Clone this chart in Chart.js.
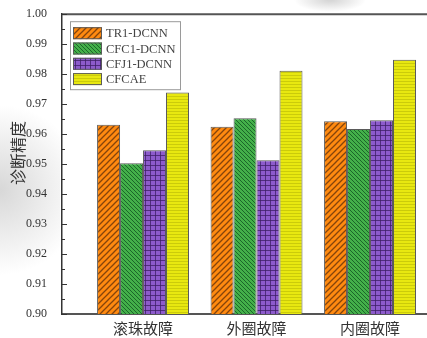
<!DOCTYPE html>
<html>
<head>
<meta charset="utf-8">
<script src="https://cdn.jsdelivr.net/npm/chart.js@4/dist/chart.umd.min.js"></script>
<style>
  html, body { margin: 0; padding: 0; background: #fff; overflow: hidden; }
  #wrap { width: 427px; height: 338px; position: relative; }
</style>
</head>
<body>
<div id="wrap"><canvas id="c" width="427" height="338"></canvas></div>
<script>
// Fault categories and diagnosis accuracy of each model
const categories = ['滚珠故障', '外圈故障', '内圈故障'];
const seriesNames = ['TR1-DCNN', 'CFC1-DCNN', 'CFJ1-DCNN', 'CFCAE'];
const tr1Dcnn  = [0.9631, 0.9625, 0.9643];
const cfc1Dcnn = [0.9503, 0.9653, 0.9617];
const cfj1Dcnn = [0.9546, 0.9513, 0.9646];
const cfcae    = [0.9739, 0.9811, 0.9848];
const yMin = 0.90, yMax = 1.00, yStep = 0.01, yMinorStep = 0.005;
const yTitle = '诊断精度';

// Fill patterns for the bars
function makePattern(kind) {
  const c = document.createElement('canvas');
  const g = c.getContext('2d');
  if (kind === 'orange') {
    const s = 6; c.width = s; c.height = s;
    g.fillStyle = '#ff8a10'; g.fillRect(0, 0, s, s);
    g.strokeStyle = 'rgba(110,55,10,0.85)'; g.lineWidth = 1.3;
    g.beginPath();
    g.moveTo(-1, s + 1); g.lineTo(s + 1, -1);
    g.moveTo(-1, 1); g.lineTo(1, -1);
    g.moveTo(s - 1, s + 1); g.lineTo(s + 1, s - 1);
    g.stroke();
  } else if (kind === 'green') {
    const s = 4; c.width = s; c.height = s;
    g.fillStyle = '#44b04a'; g.fillRect(0, 0, s, s);
    g.strokeStyle = 'rgba(20,90,35,0.85)'; g.lineWidth = 1;
    g.beginPath();
    g.moveTo(-1, -1); g.lineTo(s + 1, s + 1);
    g.moveTo(s - 1, -1); g.lineTo(s + 1, 1);
    g.moveTo(-1, s - 1); g.lineTo(1, s + 1);
    g.stroke();
  } else if (kind === 'purple') {
    const s = 5; c.width = s; c.height = s;
    g.fillStyle = '#8d5bcc'; g.fillRect(0, 0, s, s);
    g.fillStyle = 'rgba(60,30,100,0.75)';
    g.fillRect(0, 0, s, 1); g.fillRect(0, 0, 1, s);
  } else {
    const s = 3; c.width = s; c.height = s;
    g.fillStyle = '#e8e810'; g.fillRect(0, 0, s, s);
    g.fillStyle = 'rgba(150,150,0,0.35)';
    g.fillRect(0, 0, s, 1);
  }
  return g.createPattern(c, 'repeat');
}

const fills = [makePattern('orange'), makePattern('green'), makePattern('purple'), makePattern('yellow')];
const seriesValues = [tr1Dcnn, cfc1Dcnn, cfj1Dcnn, cfcae];

const datasets = seriesNames.map((name, k) => ({
  label: name,
  data: seriesValues[k].map((v, i) => ({ x: i, y: v })),
  backgroundColor: fills[k],
  borderColor: '#5a5a5a',
  borderWidth: 1,
  borderSkipped: 'bottom',
  barPercentage: 1.0,
  categoryPercentage: 0.81
}));

// Background haze, frame, inward ticks, category labels, title and legend
const decor = {
  id: 'decor',
  beforeDraw(chart) {
    const ctx = chart.ctx;
    ctx.save();
    ctx.fillStyle = '#fff';
    ctx.fillRect(0, 0, chart.width, chart.height);
    let gr = ctx.createRadialGradient(0, 190, 2, 0, 190, 85);
    gr.addColorStop(0, 'rgba(200,200,200,0.7)');
    gr.addColorStop(1, 'rgba(200,200,200,0)');
    ctx.fillStyle = gr;
    ctx.fillRect(0, 80, 60, 220);
    ctx.save();
    ctx.translate(330, 0);
    ctx.scale(3, 1);
    gr = ctx.createRadialGradient(0, 0, 1, 0, 0, 12);
    gr.addColorStop(0, 'rgba(205,205,205,0.8)');
    gr.addColorStop(1, 'rgba(205,205,205,0)');
    ctx.fillStyle = gr;
    ctx.fillRect(-40, 0, 80, 12);
    ctx.restore();
    ctx.restore();
  },
  afterDraw(chart) {
    const ctx = chart.ctx;
    const a = chart.chartArea;
    const ys = chart.scales.y;
    const xs = chart.scales.x;
    ctx.save();
    // top frame line
    ctx.strokeStyle = '#555';
    ctx.lineWidth = 2;
    ctx.beginPath();
    ctx.moveTo(a.left, a.top);
    ctx.lineTo(chart.width, a.top);
    ctx.stroke();
    // inward major / minor ticks on the y axis
    ctx.strokeStyle = '#333';
    ctx.lineWidth = 1;
    const n = Math.round((yMax - yMin) / yMinorStep);
    for (let i = 0; i <= n; i++) {
      const v = yMin + i * yMinorStep;
      const py = Math.round(ys.getPixelForValue(v)) + 0.5;
      const len = i % 2 === 0 ? 5 : 3;
      ctx.beginPath();
      ctx.moveTo(a.left, py);
      ctx.lineTo(a.left + len, py);
      ctx.stroke();
    }
    // category labels under the axis
    ctx.fillStyle = '#333';
    ctx.font = '15px "Noto Sans CJK SC"';
    ctx.textAlign = 'center';
    ctx.textBaseline = 'middle';
    categories.forEach((c, i) => {
      ctx.fillText(c, xs.getPixelForValue(i), a.bottom + 14);
    });
    // y axis title
    ctx.font = '16px "Noto Sans CJK SC"';
    ctx.translate(18, (a.top + a.bottom) / 2 - 11);
    ctx.rotate(-Math.PI / 2);
    ctx.fillText(yTitle, 0, 0);
    ctx.restore();

    // legend
    ctx.save();
    const lx = a.left + 8, ly = a.top + 7, lw = 110, lh = 68;
    ctx.fillStyle = '#fff';
    ctx.fillRect(lx, ly, lw, lh);
    ctx.strokeStyle = '#9a9a9a';
    ctx.lineWidth = 1;
    ctx.strokeRect(lx + 0.5, ly + 0.5, lw, lh);
    ctx.font = '12.5px "Liberation Serif"';
    ctx.textAlign = 'left';
    ctx.textBaseline = 'middle';
    chart.data.datasets.forEach((ds, k) => {
      const cy = ly + 12 + k * 15.3;
      ctx.fillStyle = ds.backgroundColor;
      ctx.fillRect(lx + 3, cy - 6, 29, 12);
      ctx.strokeStyle = '#5a5a5a';
      ctx.strokeRect(lx + 3.5, cy - 5.5, 28, 11);
      ctx.fillStyle = '#444';
      ctx.fillText(ds.label, lx + 36, cy + 1);
    });
    ctx.restore();
  }
};

new Chart(document.getElementById('c'), {
  type: 'bar',
  data: { datasets },
  plugins: [decor],
  options: {
    responsive: false,
    animation: false,
    layout: { padding: { top: 12, right: 0, left: 0, bottom: 0 } },
    plugins: { legend: { display: false }, tooltip: { enabled: false } },
    scales: {
      x: {
        type: 'linear',
        offset: false,
        min: -0.714,
        max: 2.502,
        grid: { display: false },
        border: { display: true, color: '#555', width: 2 },
        afterBuildTicks(scale) {
          scale.ticks = categories.map((c, i) => ({ value: i }));
        },
        afterFit(scale) { scale.height = 24; },
        ticks: { display: false }
      },
      y: {
        min: yMin,
        max: yMax,
        grid: { display: false },
        border: { display: true, color: '#333', width: 1.5 },
        afterFit(scale) { scale.width = 62; },
        ticks: {
          stepSize: yStep,
          padding: 7,
          color: '#333',
          font: { family: '"Liberation Serif"', size: 12 },
          callback: (v) => v.toFixed(2)
        }
      }
    }
  }
});
</script>
</body>
</html>
